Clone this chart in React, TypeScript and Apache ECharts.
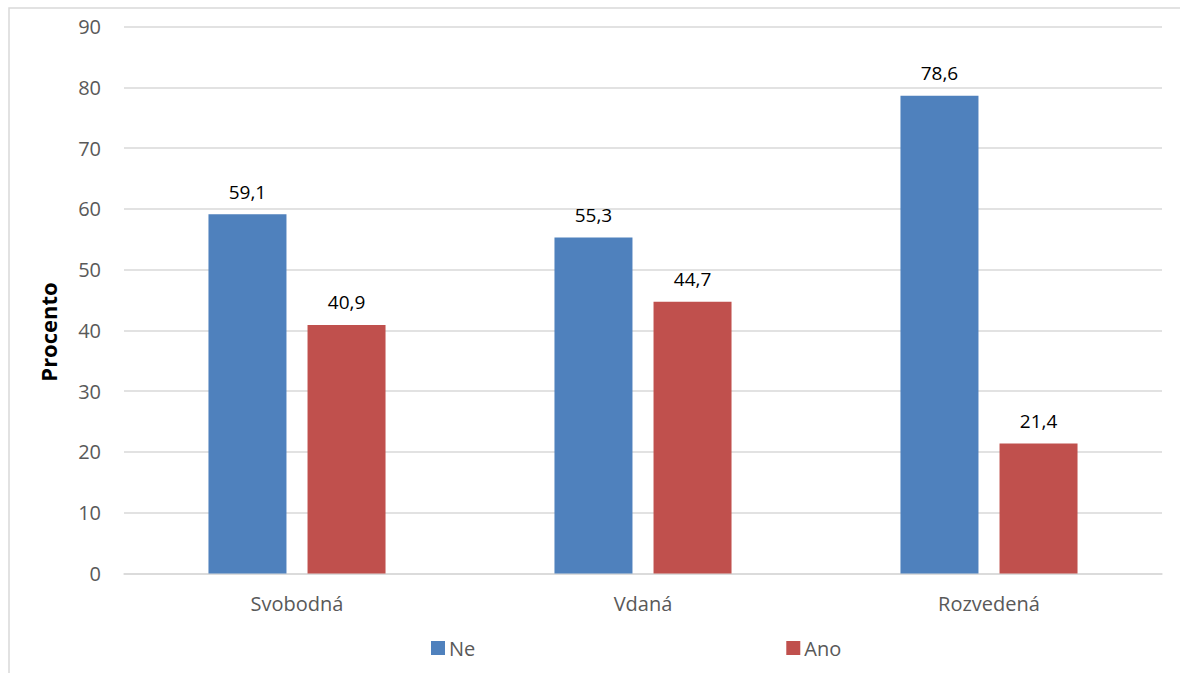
import React, { useEffect, useRef } from "react";
import * as echarts from "echarts";

const categories = ["Svobodná", "Vdaná", "Rozvedená"];
const seriesNames = ["Ne", "Ano"];
const neValues = [59.1, 55.3, 78.6];
const anoValues = [40.9, 44.7, 21.4];
const yTicks = { min: 0, max: 90, interval: 10 };
const yAxisTitle = "Procento";

const FONT = "'Open Sans', 'Noto Sans', sans-serif";

export default function App() {
  const ref = useRef<HTMLDivElement>(null);
  useEffect(() => {
    document.body.style.margin = "0";
    const chart = echarts.init(ref.current!, null, { renderer: "svg" });
    const label = {
      show: true,
      position: "top",
      distance: 13,
      color: "#000000",
      fontSize: 19,
      fontFamily: FONT,
      formatter: (p: any) => String(p.value).replace(".", ","),
    };
    chart.setOption({
      animation: false,
      backgroundColor: "#ffffff",
      textStyle: { fontFamily: FONT },
      grid: { left: 124, right: 18, top: 26.5, bottom: 99.5, containLabel: false },
      legend: {
        left: 426,
        top: 633,
        itemWidth: 14,
        itemHeight: 14,
        itemGap: 311,
        icon: "rect",
        textStyle: { color: "#595959", fontSize: 20, fontFamily: FONT, padding: [0, 0, 0, -1] },
        data: seriesNames,
      },
      xAxis: {
        type: "category",
        data: categories,
        axisLine: { lineStyle: { color: "#d9d9d9", width: 1.5 } },
        axisTick: { show: false },
        axisLabel: { color: "#595959", fontSize: 20, margin: 20, fontFamily: FONT },
      },
      yAxis: {
        type: "value",
        min: yTicks.min,
        max: yTicks.max,
        interval: yTicks.interval,
        axisLine: { show: false },
        axisTick: { show: false },
        axisLabel: { color: "#595959", fontSize: 20, margin: 23, fontFamily: FONT },
        splitLine: { lineStyle: { color: "#d9d9d9", width: 1.5 } },
      },
      graphic: [
        {
          type: "rect",
          shape: { x: 9, y: 8, width: 1200, height: 700 },
          style: { fill: "none", stroke: "#d9d9d9", lineWidth: 1.5 },
          silent: true,
          z: -1,
        },
        {
          type: "text",
          x: 48,
          y: 332,
          rotation: Math.PI / 2,
          style: {
            text: yAxisTitle,
            fill: "#000000",
            fontSize: 22,
            fontWeight: "bold",
            fontFamily: FONT,
            align: "center",
            verticalAlign: "middle",
          },
        },
      ],
      series: [
        {
          name: seriesNames[0],
          type: "bar",
          data: neValues,
          barWidth: 78,
          barGap: "27%",
          itemStyle: { color: "#4F81BD" },
          label,
        },
        {
          name: seriesNames[1],
          type: "bar",
          data: anoValues,
          barWidth: 78,
          itemStyle: { color: "#C0504D" },
          label,
        },
      ],
    });
    return () => chart.dispose();
  }, []);
  return <div ref={ref} style={{ width: 1180, height: 673 }} />;
}
